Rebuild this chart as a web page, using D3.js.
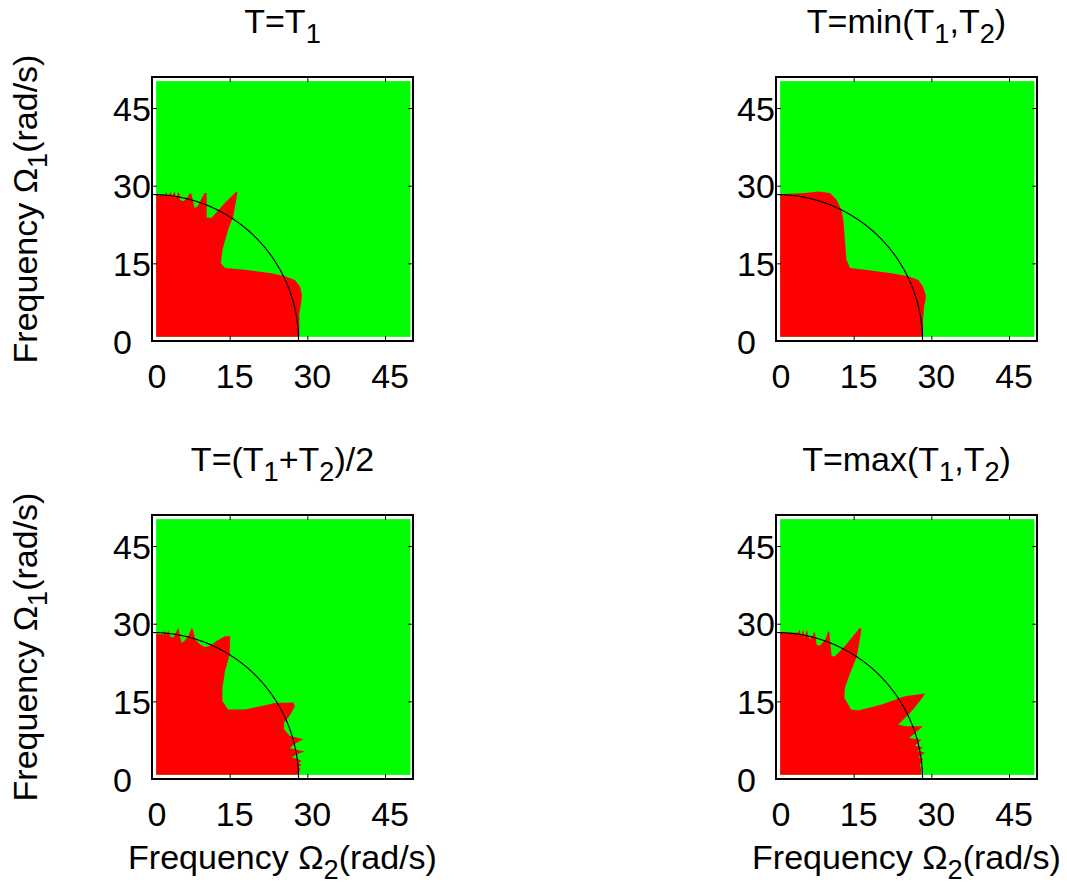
<!DOCTYPE html>
<html>
<head>
<meta charset="utf-8">
<script src="https://cdn.jsdelivr.net/npm/d3@7"></script>
<style>
  body { margin: 0; background: #fff; }
  svg text { font-family: "Liberation Sans", Arial, sans-serif; fill: #000; }
</style>
</head>
<body>
<div id="chart"></div>
<script>
// ticks and axis ranges
var xTicks = [0, 15, 30, 45],
    yTicks = [0, 15, 30, 45],
    xDomain = [0, 50.4],
    yDomain = [0, 51],
    fieldX = [0.8, 49.9],   // extent of the coloured map
    fieldY = [0.8, 50.2],
    radius = 28.3;          // reference quarter circle

var titles = ["T=T_1", "T=min(T_1,T_2)", "T=(T_1+T_2)/2", "T=max(T_1,T_2)"];
var xLabel = "Frequency \u03A9_2(rad/s)",
    yLabel = "Frequency \u03A9_1(rad/s)";

// boundary of the red region, [Omega2, Omega1]
var redT1 = [[0,0],[0,28.3],[2.5,28.1],[2.8,28.8],[3.0,28.0],[3.7,28.8],[3.8,27.8],[4.4,28.9],[4.6,27.6],
  [5.2,28.9],[5.4,27.3],[6.05,27.0],[6.7,27.6],[7.35,28.6],[7.65,28.3],[8.2,25.7],[8.8,26.0],[9.6,27.6],
  [10.2,28.6],[10.55,28.6],[10.55,23.8],[11.5,23.8],[14.1,26.7],[16.3,28.9],[16.5,28.6],[15.7,24.1],
  [14.7,21.5],[13.6,17.6],[13.3,15.05],[14.1,14.1],[17.95,13.75],[23.1,13.1],[25.7,12.5],[27.6,11.8],
  [28.6,10.5],[28.95,8.9],[28.8,7.3],[28.45,5.4],[28.45,0]];

var redMin = [[0,0],[0,28.3],[5.6,28.6],[8.2,28.9],[10.4,28.6],[11.7,27.3],[12.6,25.4],[13.0,23.45],
  [13.3,19.6],[13.6,15.7],[14.3,14.1],[17.2,13.75],[22.3,13.1],[25.5,12.5],[27.5,11.8],[28.4,10.5],
  [28.9,8.9],[28.9,8.0],[28.6,6.7],[28.4,4.1],[28.4,0]];

var redAvg = [[0,0],[0,28.05],[2.2,27.9],[2.5,28.7],[2.8,27.8],[3.15,28.7],[3.5,27.6],[4.1,27.3],[4.4,27.9],
  [5.1,29.2],[5.4,27.6],[5.7,26.3],[6.2,26.6],[7.0,27.6],[7.65,29.2],[8.0,28.6],[8.3,27.0],[9.3,26.0],
  [10.2,25.5],[11.2,25.7],[12.5,26.7],[14.1,27.6],[15.1,27.6],[15.0,24.05],[14.1,20.8],[13.6,17.6],
  [13.6,15.05],[14.7,13.45],[17.95,13.45],[21.2,14.1],[23.7,14.7],[27.3,14.8],[27.6,14.1],[26.6,12.2],
  [25.5,10.9],[25.5,9.6],[26.6,8.3],[27.9,8.0],[29.2,7.7],[27.6,6.8],[26.6,6.0],[27.6,5.7],[29.5,5.3],
  [27.9,4.8],[27.0,4.15],[28.25,3.8],[28.9,3.5],[28.25,3.1],[28.9,2.7],[28.25,2.4],[28.6,2.0],
  [28.25,0.9],[28.25,0]];

var redMax = [[0,0],[0,28.25],[4.3,28.25],[4.6,28.9],[4.8,27.6],[5.3,28.9],[5.5,27.3],[6.0,28.9],[6.2,27.6],
  [6.6,27.0],[7.4,28.25],[7.5,28.6],[7.85,25.9],[8.5,25.8],[9.5,26.9],[10.1,28.6],[10.3,28.3],[10.75,23.7],
  [11.4,23.7],[13.3,25.7],[16.2,29.2],[16.5,28.9],[15.6,23.6],[14.3,20.4],[13.3,17.6],[13.2,15.7],
  [14.5,13.45],[15.9,13.25],[20.4,14.4],[24.9,16.0],[28.8,16.5],[27.8,15.06],[26.2,13.1],[24.6,11.5],
  [23.6,10.5],[25.2,10.2],[28.4,10.2],[27.2,9.2],[25.7,7.9],[28.1,7.6],[26.8,6.4],[28.4,6.1],[27.2,5.4],
  [28.8,5.1],[27.5,4.15],[28.4,3.8],[27.8,2.8],[28.1,1.5],[27.9,0]];

var regions = [redT1, redMin, redAvg, redMax];

// layout
var W = 1067, H = 886,
    pw = 261, ph = 264,
    origins = [[152, 77], [776, 77], [152, 515], [776, 515]],
    fontSize = 34;

var svg = d3.select("#chart").append("svg")
    .attr("width", W)
    .attr("height", H);

var x = d3.scaleLinear().domain(xDomain).range([0, pw]),
    y = d3.scaleLinear().domain(yDomain).range([ph, 0]);

// text with "_c" subscripts
function richText(sel, str) {
  var parts = str.split(/_(.)/);
  parts.forEach(function(p, i) {
    if (i % 2 == 1) {
      sel.append("tspan").attr("font-size", fontSize * 0.8).attr("dy", 10).text(p);
    } else if (p.length) {
      sel.append("tspan").attr("dy", i > 0 ? -10 : 0).text(p);
    }
  });
}

var arcPts = d3.range(0, 90.25, 0.25).map(function(a) {
  var t = a * Math.PI / 180;
  return [radius * Math.cos(t), radius * Math.sin(t)];
});

var line = d3.line()
    .x(function(d) { return x(d[0]); })
    .y(function(d) { return y(d[1]); });

origins.forEach(function(o, i) {
  var g = svg.append("g").attr("transform", "translate(" + o[0] + "," + o[1] + ")");

  g.append("clipPath").attr("id", "clip" + i)
    .append("rect")
      .attr("x", x(fieldX[0])).attr("y", y(fieldY[1]))
      .attr("width", x(fieldX[1]) - x(fieldX[0]))
      .attr("height", y(fieldY[0]) - y(fieldY[1]));

  // green field
  g.append("rect")
    .attr("x", x(fieldX[0])).attr("y", y(fieldY[1]))
    .attr("width", x(fieldX[1]) - x(fieldX[0]))
    .attr("height", y(fieldY[0]) - y(fieldY[1]))
    .attr("fill", "#00ff00");

  // red region
  g.append("path")
    .datum(regions[i])
    .attr("d", function(d) { return line(d) + "Z"; })
    .attr("fill", "#ff0000")
    .attr("clip-path", "url(#clip" + i + ")");

  // quarter circle
  g.append("path")
    .datum(arcPts)
    .attr("d", line)
    .attr("fill", "none")
    .attr("stroke", "#000")
    .attr("stroke-width", 1.2);

  // axes with inward ticks
  var xa = g.append("g").attr("transform", "translate(0," + ph + ")")
    .call(d3.axisBottom(x).tickValues(xTicks).tickSize(-5).tickPadding(23));
  xa.selectAll("text").attr("font-size", fontSize).attr("dx", 4.5);

  g.append("g")
    .call(d3.axisTop(x).tickValues(xTicks).tickSize(-5).tickFormat(""));

  var ya = g.append("g")
    .call(d3.axisLeft(y).tickValues(yTicks).tickSize(-5));
  ya.selectAll("text")
    .attr("font-size", fontSize)
    .attr("text-anchor", "start")
    .attr("x", -39)
    .attr("dy", "0.36em");

  g.append("g").attr("transform", "translate(" + pw + ",0)")
    .call(d3.axisRight(y).tickValues(yTicks).tickSize(-5).tickFormat(""));

  g.selectAll(".domain").remove();
  g.selectAll(".tick line").attr("stroke", "#000").attr("stroke-width", 1);
  g.selectAll("text").attr("font-family", null).attr("fill", "#000");

  // frame
  g.append("rect")
    .attr("width", pw).attr("height", ph)
    .attr("fill", "none")
    .attr("stroke", "#000")
    .attr("stroke-width", 2);

  // title
  var t = g.append("text")
    .attr("x", pw / 2).attr("y", -44)
    .attr("text-anchor", "middle")
    .attr("font-size", fontSize);
  richText(t, titles[i]);

  if (i % 2 == 0) {
    var yl = g.append("text")
      .attr("transform", "translate(-115," + (ph / 2) + ") rotate(-90)")
      .attr("text-anchor", "middle")
      .attr("font-size", fontSize);
    richText(yl, yLabel);
  }
  if (i >= 2) {
    var xl = g.append("text")
      .attr("x", pw / 2).attr("y", ph + 90)
      .attr("text-anchor", "middle")
      .attr("font-size", fontSize);
    richText(xl, xLabel);
  }
});
</script>
</body>
</html>
